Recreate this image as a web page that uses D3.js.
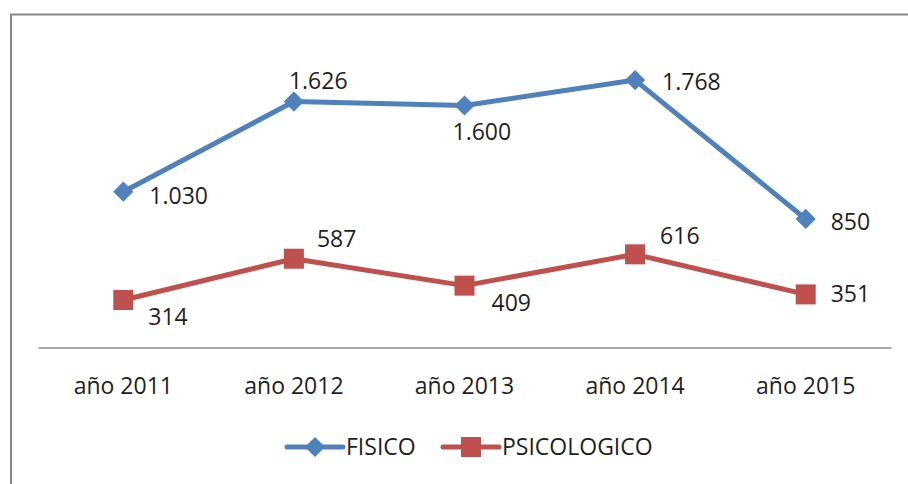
<!DOCTYPE html>
<html>
<head>
<meta charset="utf-8">
<script src="https://cdn.jsdelivr.net/npm/d3@7"></script>
<style>
  body { margin: 0; background: #ffffff; }
  text { font-family: "Open Sans", sans-serif; fill: #1f1f1f; }
  .valueLabel { font-size: 23px; }
  .ticksLabel text { font-size: 23px; }
  .legendLabel { font-size: 23px; }
</style>
</head>
<body>
<div class="chart_container"></div>
<script>
var width = 908
var height = 484

// data
var years = ["año 2011", "año 2012", "año 2013", "año 2014", "año 2015"]
var fisico = [1030, 1626, 1600, 1768, 850]
var psicologico = [314, 587, 409, 616, 351]
var fisicoLabels = ["1.030", "1.626", "1.600", "1.768", "850"]
var psicologicoLabels = ["314", "587", "409", "616", "351"]
var seriesNames = ["FISICO", "PSICOLOGICO"]

// where each value label sits relative to its point
var fisicoOffsets = [[26, 4], [-5, -21], [-12, 26], [27, 2], [25, 3]]
var psicoOffsets = [[25, 17], [23, -20], [27, 17], [25, -18], [25, 0]]

var blue = "#4f81bd"
var red = "#c0504d"

var svg = d3.select(".chart_container").append("svg")
                             .attr("width", width)
                             .attr("height", height);

// outer frame (runs off the right and bottom edge)
svg.append("rect")
  .attr("x", 11)
  .attr("y", 14.5)
  .attr("width", 1000)
  .attr("height", 600)
  .style("fill", "none")
  .style("stroke", "#878787")
  .style("stroke-width", 2);

var scaleYears = d3.scaleBand()
                   .domain(years)
                   .range([38, 891])
                   .padding(0);

var scaleValue = d3.scaleLinear()
                   .domain([0, 2000])
                   .range([347.5, 45]);

var axisBottom = d3.axisBottom(scaleYears)
                   .tickSize(0)
                   .tickSizeOuter(0)
                   .tickPadding(30);

var axisG = svg.append("g")
  .attr("class", "ticksLabel")
  .attr("transform", "translate(0," + scaleValue(0) + ")")
  .call(axisBottom);

axisG.select(".domain")
  .style("stroke", "#8c8c8c")
  .style("stroke-width", 1.5);

axisG.selectAll("text")
  .style("font-family", "\"Open Sans\", sans-serif")
  .style("font-size", "23px")
  .style("fill", "#1f1f1f");

function yearToX(d, i) {
  return scaleYears(years[i]) + scaleYears.bandwidth() / 2;
}

var line = d3.line()
             .x(yearToX)
             .y(function(d) { return scaleValue(d); });

var diamond = d3.symbol().type(d3.symbolDiamond2).size(260);

function drawSeries(values, labels, offsets, color, marker) {
  var g = svg.append("g");

  g.append("path")
    .datum(values)
    .attr("d", line)
    .style("fill", "none")
    .style("stroke", color)
    .style("stroke-width", 5)
    .style("stroke-linejoin", "round");

  var points = g.selectAll(".pt")
                .data(values)
                .enter();

  if (marker == "diamond") {
    points.append("path")
      .attr("d", diamond)
      .attr("transform", function(d, i) {
        return "translate(" + yearToX(d, i) + "," + scaleValue(d) + ")";
      })
      .style("fill", color);
  } else {
    points.append("rect")
      .attr("x", function(d, i) { return yearToX(d, i) - 10; })
      .attr("y", function(d) { return scaleValue(d) - 10; })
      .attr("width", 20)
      .attr("height", 20)
      .style("fill", color);
  }

  g.selectAll(".valueLabel")
    .data(values)
    .enter()
    .append("text")
    .attr("class", "valueLabel")
    .attr("x", function(d, i) { return yearToX(d, i) + offsets[i][0]; })
    .attr("y", function(d, i) { return scaleValue(d) + offsets[i][1]; })
    .attr("dy", "0.35em")
    .text(function(d, i) { return labels[i]; });
}

drawSeries(fisico, fisicoLabels, fisicoOffsets, blue, "diamond");
drawSeries(psicologico, psicologicoLabels, psicoOffsets, red, "square");

// legend
var legendY = 447;
var legendItems = [
  { name: seriesNames[0], color: blue, marker: "diamond", x: 287 },
  { name: seriesNames[1], color: red, marker: "square", x: 443 }
];

legendItems.forEach(function(item) {
  var lg = svg.append("g");
  lg.append("line")
    .attr("x1", item.x)
    .attr("x2", item.x + 56)
    .attr("y1", legendY)
    .attr("y2", legendY)
    .style("stroke", item.color)
    .style("stroke-width", 5)
    .style("stroke-linecap", "round");
  if (item.marker == "diamond") {
    lg.append("path")
      .attr("d", diamond)
      .attr("transform", "translate(" + (item.x + 28) + "," + legendY + ")")
      .style("fill", item.color);
  } else {
    lg.append("rect")
      .attr("x", item.x + 28 - 10)
      .attr("y", legendY - 10)
      .attr("width", 20)
      .attr("height", 20)
      .style("fill", item.color);
  }
  lg.append("text")
    .attr("class", "legendLabel")
    .attr("x", item.x + 59)
    .attr("y", legendY)
    .attr("dy", "0.35em")
    .text(item.name);
});
</script>
</body>
</html>
